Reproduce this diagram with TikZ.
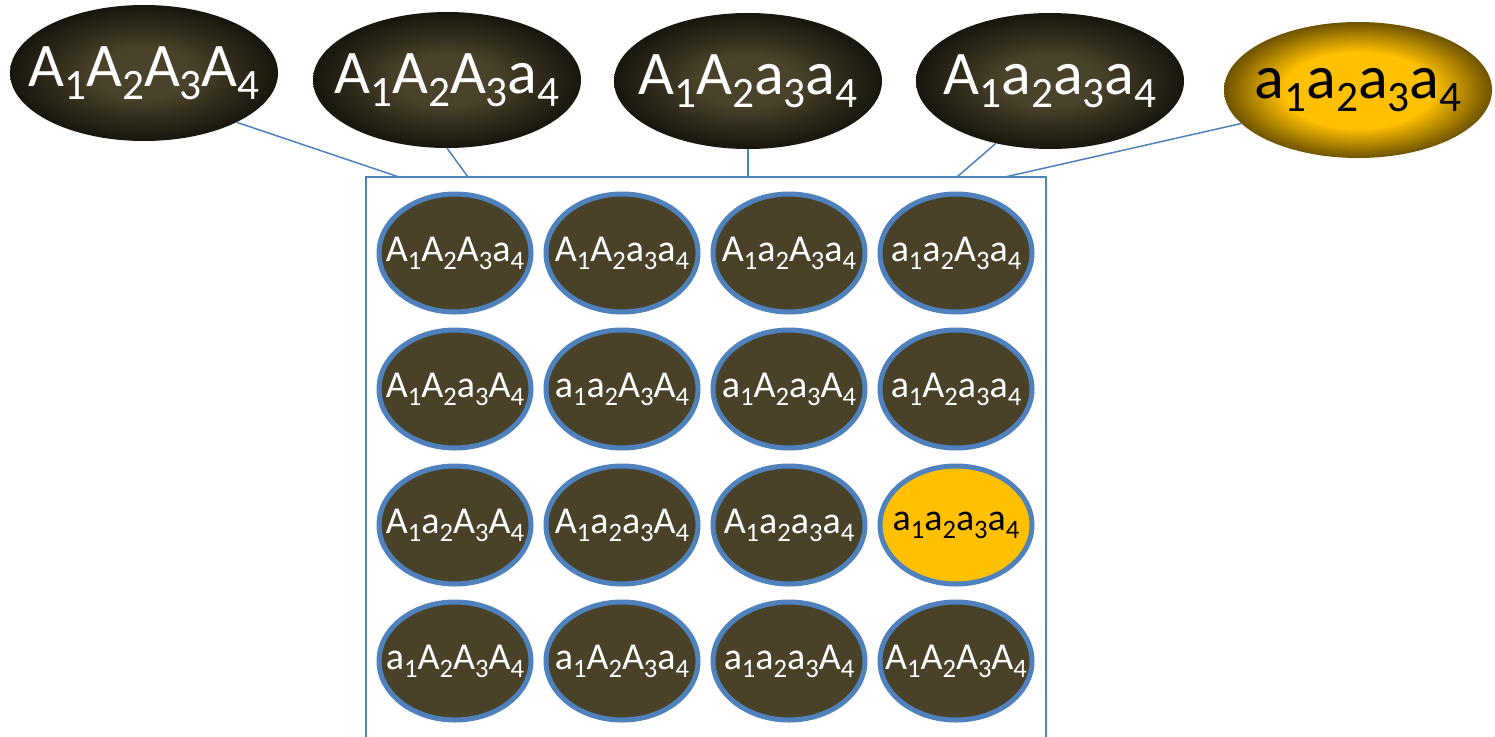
\documentclass[tikz,border=0pt]{standalone}
\usepackage{fontspec}
\usepackage{graphicx}
\setmainfont{Carlito}
\usetikzlibrary{shapes.geometric,positioning}

\definecolor{olivedark}{HTML}{494229}
\definecolor{ringblue}{HTML}{4F81BD}
\definecolor{gold}{HTML}{FFC000}
\definecolor{topcore}{HTML}{4A432B}
\definecolor{topedge}{HTML}{17150D}
\definecolor{goldedge}{HTML}{6E5300}

\pgfdeclareradialshading{darkglow}{\pgfpointorigin}{color(0bp)=(topcore); color(9bp)=(topcore); color(25bp)=(topedge); color(50bp)=(topedge)}
\pgfdeclareradialshading{goldglow}{\pgfpointorigin}{color(0bp)=(gold); color(14bp)=(gold); color(25bp)=(goldedge); color(50bp)=(goldedge)}

\newcommand{\low}[1]{\raisebox{-0.21em}{\scalebox{0.7}{#1}}}
\newcommand{\geno}[4]{\makebox[0pt]{#1\low{1}#2\low{2}#3\low{3}#4\low{4}}}

\begin{document}
\begin{tikzpicture}[x=1pt, y=-1pt]
    % Styles
    \tikzstyle{parent} = [ellipse, shading=darkglow, text=white,
        minimum width=268pt, minimum height=136pt, font=\fontsize{62}{70}\selectfont]
    \tikzstyle{parentrec} = [parent, shading=goldglow, text=black]
    \tikzstyle{cell} = [ellipse, draw=ringblue, line width=5pt, fill=olivedark, text=white,
        minimum width=152pt, minimum height=118pt, font=\fontsize{38}{42}\selectfont]
    \tikzstyle{cellrec} = [cell, fill=gold, text=black]
    \tikzstyle{link} = [ringblue, line width=1.5pt]

    \useasboundingbox (0,0) rectangle (1495,736);

    % Pool
    \node [draw=ringblue, line width=1.5pt, inner sep=0pt, outer sep=0pt,
        minimum width=680pt, minimum height=620pt, anchor=north west] (pool) at (366,177) {};

    % Parents
    \node [parent] (top1) at (144,73) {\geno AAAA};
    \node [parent] (top2) at (447,80) {\geno AAAa};
    \node [parent] (top3) at (748,81) {\geno AAaa};
    \node [parent] (top4) at (1050,81) {\geno Aaaa};
    \node [parentrec] (top5) at (1358,90) {\geno aaaa};

    % Offspring
    \node [cell] (c11) at (455,253) {\geno AAAa};
    \node [cell, right=10pt of c11] (c12) {\geno AAaa};
    \node [cell, right=10pt of c12] (c13) {\geno AaAa};
    \node [cell, right=10pt of c13] (c14) {\geno aaAa};
    \node [cell, below=13pt of c11] (c21) {\geno AAaA};
    \node [cell, right=10pt of c21] (c22) {\geno aaAA};
    \node [cell, right=10pt of c22] (c23) {\geno aAaA};
    \node [cell, right=10pt of c23] (c24) {\geno aAaa};
    \node [cell, below=13pt of c21] (c31) {\geno AaAA};
    \node [cell, right=10pt of c31] (c32) {\geno AaaA};
    \node [cell, right=10pt of c32] (c33) {\geno Aaaa};
    \node [cellrec, right=10pt of c33] (c34) {\geno aaaa};
    \node [cell, below=13pt of c31] (c41) {\geno aAAA};
    \node [cell, right=10pt of c41] (c42) {\geno aAAa};
    \node [cell, right=10pt of c42] (c43) {\geno aaaA};
    \node [cell, right=10pt of c43] (c44) {\geno AAAA};

    % Links
    \coordinate (p1) at (399,177);
    \coordinate (p2) at (468,177);
    \coordinate (p3) at (748,177);
    \coordinate (p4) at (957,177);
    \coordinate (p5) at (1005,177);
    \draw [link] (top1.-28) -- (p1);
    \draw [link] (top2.south) -- (p2);
    \draw [link] (top3.south) -- (p3);
    \draw [link] (top4.-131) -- (p4);
    \draw [link] (top5.-164) -- (p5);
\end{tikzpicture}
\end{document}
